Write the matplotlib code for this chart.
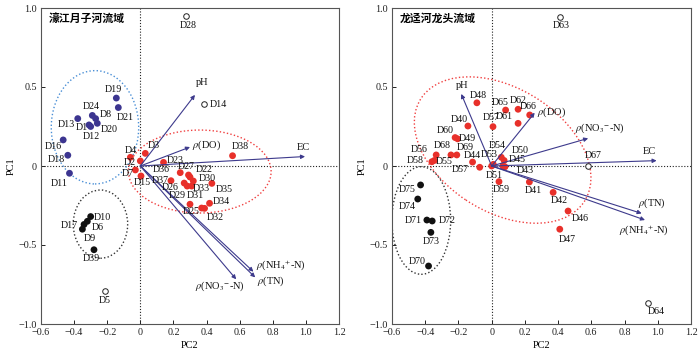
import matplotlib
matplotlib.use('Agg')
import matplotlib.pyplot as plt
from matplotlib.patches import Ellipse

plt.rcParams['font.family'] = ['Liberation Serif', 'DejaVu Serif']
plt.rcParams['mathtext.fontset'] = 'stix'

# ---------------- data : left panel ----------------
left_title = '濠江月子河流域'
right_title = '龙迳河龙头流域'

L_red_names = ['D4', 'D3', 'D2', 'D7', 'D15', 'D23', 'D38', 'D36', 'D27', 'D22', 'D37',
               'D30', 'D26', 'D29', 'D33', 'D35', 'D31', 'D34', 'D32', 'D25']
L_red_pc2 = [-0.06, 0.03, 0.0, -0.03, 0.004, 0.14, 0.557, 0.241, 0.291, 0.30, 0.185,
             0.32, 0.265, 0.283, 0.31, 0.432, 0.30, 0.418, 0.388, 0.37]
L_red_pc1 = [0.055, 0.08, 0.032, -0.025, -0.063, 0.023, 0.065, -0.042, -0.057, -0.07, -0.093,
             -0.095, -0.108, -0.127, -0.127, -0.11, -0.242, -0.236, -0.268, -0.266]

L_blue_names = ['D19', 'D21', 'D24', 'D8', 'D13', 'D1', 'D12', 'D20', 'D16', 'D18', 'D11']
L_blue_pc2 = [-0.145, -0.133, -0.29, -0.27, -0.378, -0.31, -0.30, -0.26, -0.466, -0.438, -0.428]
L_blue_pc1 = [0.43, 0.37, 0.32, 0.30, 0.30, 0.26, 0.25, 0.27, 0.165, 0.068, -0.046]

L_black_names = ['D10', 'D6', 'D17', 'D9', 'D39']
L_black_pc2 = [-0.30, -0.32, -0.34, -0.35, -0.28]
L_black_pc1 = [-0.32, -0.35, -0.37, -0.40, -0.53]

L_open_names = ['D28', 'D14', 'D5']
L_open_pc2 = [0.275, 0.386, -0.215]
L_open_pc1 = [0.95, 0.39, -0.79]

L_vec_names = ['pH', r'$\rho$(DO)', 'EC', r'$\rho$(NH$_4$$^{+}$-N)', r'$\rho$(TN)', r'$\rho$(NO$_3$$^{-}$-N)']
L_vec_pc2 = [0.33, 0.30, 0.995, 0.683, 0.694, 0.579]
L_vec_pc1 = [0.45, 0.12, 0.06, -0.669, -0.705, -0.717]

# ---------------- data : right panel ----------------
R_red_names = ['D48', 'D65', 'D62', 'D66', 'D61', 'D57', 'D40', 'D60', 'D49', 'D68', 'D69',
               'D56', 'D58', 'D55', 'D44', 'D53', 'D57', 'D51', 'D54', 'D50', 'D45', 'D43',
               'D59', 'D41', 'D42', 'D46', 'D47']
R_red_pc2 = [-0.089, 0.084, 0.159, 0.229, 0.159, 0.008, -0.143, -0.22, -0.205, -0.245, -0.21,
             -0.334, -0.36, -0.345, -0.115, 0.01, -0.072, 0.0, 0.058, 0.075, 0.068, 0.08,
             0.044, 0.227, 0.37, 0.46, 0.41]
R_red_pc1 = [0.40, 0.354, 0.359, 0.323, 0.27, 0.249, 0.253, 0.18, 0.172, 0.07, 0.07,
             0.07, 0.027, 0.035, 0.025, 0.01, -0.008, 0.0, 0.055, 0.035, 0.0, -0.005,
             -0.099, -0.101, -0.167, -0.285, -0.40]

R_black_names = ['D75', 'D74', 'D71', 'D72', 'D73', 'D70']
R_black_pc2 = [-0.428, -0.445, -0.39, -0.358, -0.366, -0.38]
R_black_pc1 = [-0.12, -0.209, -0.342, -0.348, -0.42, -0.633]

R_open_names = ['D67', 'D63', 'D64']
R_open_pc2 = [0.581, 0.414, 0.939]
R_open_pc1 = [0.0, 0.945, -0.865]

R_vec_names = ['pH', r'$\rho$(DO)', r'$\rho$(NO$_3$$^{-}$-N)', 'EC', r'$\rho$(TN)', r'$\rho$(NH$_4$$^{+}$-N)']
R_vec_pc2 = [-0.183, 0.259, 0.581, 0.993, 0.903, 0.923]
R_vec_pc1 = [0.456, 0.337, 0.175, 0.034, -0.30, -0.342]

x_ticks = [-0.6, -0.4, -0.2, 0, 0.2, 0.4, 0.6, 0.8, 1.0, 1.2]
x_tick_labels = ['\u22120.6', '\u22120.4', '\u22120.2', '0', '0.2', '0.4', '0.6', '0.8', '1.0', '1.2']
y_ticks = [-1.0, -0.5, 0, 0.5, 1.0]
y_tick_labels = ['\u22121.0', '\u22120.5', '0', '0.5', '1.0']

# ---------------- styles (label offsets in pixels) ----------------
L_red_off = [(0, 7), (8, 8), (-11, -2), (-8, -4), (1, -7), (12, 2), (8, 9), (-19, 3), (-2, 9), (14, 8),
             (-11, 0), (14, 3), (-14, -4), (-10, -9), (10, -2), (12, -6), (5, 9), (12, 2), (11, -9), (-10, -3)]
L_blue_off = [(-3, 9), (7, -10), (-1, 9), (10, 4), (-11, -6), (-7, -3), (1, -10), (12, -6), (-10, -7), (-11, -4), (-10, -10)]
L_black_off = [(12, -1), (10, -6), (-15, -1), (7, -9), (-3, -9)]
L_open_off = [(2, -10), (14, 0), (0, -10)]
L_vec_off = [((7, 12), 'center'), ((2, 2), 'left'), ((-2, 9), 'center'), ((3, 7), 'left'),
             ((2, -4), 'left'), ((-16, -7), 'center')]

R_red_off = [(1, 7), (-5, 8), (0, 9), (-2, 8), (-14, 7), (-2, 9), (-9, 7), (-10, 7), (10, 0), (-9, 9), (8, 7),
             (-17, 5), (-17, 1), (10, -1), (0, 7), (-4, 10), (-20, -2), (3, -9), (-4, 12), (16, 10), (14, 7), (20, -4),
             (2, -8), (4, -9), (6, -8), (12, -7), (7, -10)]
R_black_off = [(-13, -5), (-11, -7), (-14, 0), (15, 0), (0, -9), (-11, 5)]
R_open_off = [(5, 11), (1, -9), (9, -9)]
R_vec_off = [((1, 8), 'center'), ((2, 1), 'left'), ((12, 10), 'center'), ((-7, 9), 'center'),
             ((10, 10), 'center'), ((-1, -10), 'center')]

RED = '#e8302a'
BLUE = '#3c3590'
BLACK = '#111111'
VEC = '#3d3a8c'
LBL_FS = 7.2
DOT = (0, (1, 1.6))


def setup(ax):
    ax.set_xlim(-0.6, 1.2)
    ax.set_ylim(-1.0, 1.0)
    ax.set_xticks(x_ticks)
    ax.set_xticklabels(x_tick_labels, fontsize=7.3)
    ax.set_yticks(y_ticks)
    ax.set_yticklabels(y_tick_labels, fontsize=7.3)
    ax.tick_params(direction='in', length=3, width=0.7, pad=3, colors='#222222')
    for s in ax.spines.values():
        s.set_color('#555555')
        s.set_linewidth(0.8)
    ax.axhline(0, color='#222222', ls=DOT, lw=0.8, zorder=1)
    ax.axvline(0, color='#222222', ls=DOT, lw=0.8, zorder=1)
    ax.set_xlabel('PC2', fontsize=7.5, labelpad=3)
    ax.set_ylabel('PC1', fontsize=7.5, labelpad=2)


def points(ax, names, xs, ys, offs, color, open_=False):
    if open_:
        ax.scatter(xs, ys, s=16, facecolor='white', edgecolor='#222222', linewidth=0.7, zorder=4)
    else:
        ax.scatter(xs, ys, s=24, color=color, edgecolor='none', zorder=2.5)
    for n, x, y, o in zip(names, xs, ys, offs):
        ax.annotate(n, (x, y), xytext=o, textcoords='offset pixels', ha='center', va='center',
                    fontsize=LBL_FS, color='#111111', zorder=5)


def vectors(ax, names, xs, ys, offs):
    for n, x, y, (o, ha) in zip(names, xs, ys, offs):
        ax.annotate('', xy=(x, y), xytext=(0, 0),
                    arrowprops=dict(arrowstyle='-|>', color=VEC, lw=0.8, mutation_scale=6,
                                    shrinkA=0, shrinkB=0), zorder=3)
        ax.annotate(n, (x, y), xytext=o, textcoords='offset pixels', ha=ha, va='center',
                    fontsize=7.5, color='#111111', zorder=5)


fig = plt.figure(figsize=(7, 3.54), dpi=100)
axL = fig.add_axes([41 / 700, 30 / 354, 298 / 700, 316 / 354])
axR = fig.add_axes([392 / 700, 30 / 354, 299 / 700, 316 / 354])

# left panel
setup(axL)
axL.add_patch(Ellipse((-0.274, 0.245), 0.528, 0.717, fill=False, ec='#4a8fd6', ls=DOT, lw=1.0, zorder=1))
axL.add_patch(Ellipse((-0.241, -0.368), 0.329, 0.432, fill=False, ec='#333333', ls=DOT, lw=1.0, zorder=1))
axL.add_patch(Ellipse((0.359, -0.035), 0.862, 0.525, fill=False, ec='#f04040', ls=DOT, lw=1.0, zorder=1))
points(axL, L_red_names, L_red_pc2, L_red_pc1, L_red_off, RED)
points(axL, L_blue_names, L_blue_pc2, L_blue_pc1, L_blue_off, BLUE)
points(axL, L_black_names, L_black_pc2, L_black_pc1, L_black_off, BLACK)
points(axL, L_open_names, L_open_pc2, L_open_pc1, L_open_off, None, open_=True)
vectors(axL, L_vec_names, L_vec_pc2, L_vec_pc1, L_vec_off)
axL.text(0.027, 0.967, left_title, transform=axL.transAxes, ha='left', va='center',
         fontsize=7.8, fontweight='bold', family=['Noto Sans CJK SC', 'DejaVu Sans'])

# right panel
setup(axR)
axR.add_patch(Ellipse((0.066, 0.101), 1.18, 0.772, angle=-35, fill=False, ec='#f04040', ls=DOT, lw=1.0, zorder=1))
axR.add_patch(Ellipse((-0.424, -0.345), 0.354, 0.681, fill=False, ec='#333333', ls=DOT, lw=1.0, zorder=1))
points(axR, R_red_names, R_red_pc2, R_red_pc1, R_red_off, RED)
points(axR, R_black_names, R_black_pc2, R_black_pc1, R_black_off, BLACK)
points(axR, R_open_names, R_open_pc2, R_open_pc1, R_open_off, None, open_=True)
vectors(axR, R_vec_names, R_vec_pc2, R_vec_pc1, R_vec_off)
axR.text(0.027, 0.967, right_title, transform=axR.transAxes, ha='left', va='center',
         fontsize=7.8, fontweight='bold', family=['Noto Sans CJK SC', 'DejaVu Sans'])

fig.savefig('out.png', dpi=100)
